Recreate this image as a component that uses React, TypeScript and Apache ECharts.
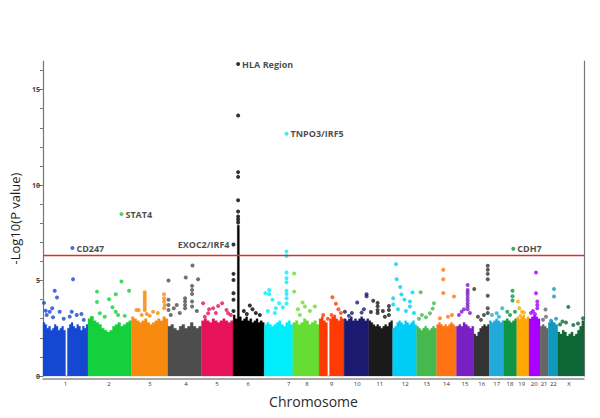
import React, { useEffect, useRef } from "react";
import * as echarts from "echarts";

// Chromosomes, their lengths (Mb, as spanned on the picture) and colours
const chromosomes = ["1","2","3","4","5","6","7","8","9","10","11","12","13","14","15","16","17","18","19","20","21","22","X"];
const chromosomeLengthsMb = [257,248,209,191,181,178,163,150,143,141,136,137,114,114,99,88,84,73,70,63,47,54,150];
const chromosomeColors = [
  "#1548d2","#14d03c","#f88a10","#4d4d4d","#e6135a","#000000","#00eefc","#66dd33",
  "#ff3a05","#1c1a70","#1a1a1a","#00cdf6","#45b84e","#ff7314","#7a1fc4","#333333",
  "#22aadb","#0e9444","#ffa900","#a800ff","#666666","#1098bd","#0f6636"
];
// Tick label positions on the genome axis (Mb)
const chromosomeLabelPositions = [128,377,610,816,994,1172,1404,1507,1648,1795,1924,2069,2191,2305,2410,2506,2591,2667,2734,2806,2862,2915,3004];

// Upper edge of the dense body of points in each chromosome (-log10 P), left to right
const baseProfiles = [
  [2.8,2.7,2.5,2.6,2.4,2.5,2.7,2.6,2.4,2.5,2.6,2.4,0,2.5,2.7,2.8,2.6,2.5,2.7,2.6,2.4,2.6,2.5,2.7],
  [3.0,3.1,2.9,2.8,2.7,2.5,2.4,2.3,2.4,2.6,2.7,2.8,2.6,2.7,2.8,2.9],
  [3.1,3.0,2.9,2.8,2.9,3.0,2.8,2.7,2.8,2.9,3.0,2.9,3.1,3.0],
  [2.6,2.7,2.5,2.4,2.6,2.7,2.5,2.6,2.8,2.6,2.5,2.6],
  [2.9,3.0,2.9,2.8,3.0,2.9,2.8,2.9,3.0,2.9,2.8,2.9],
  [3.2,3.0,7.9,3.1,2.9,3.0,3.1,2.9,3.0,2.8,2.9,3.0,2.8,2.9,2.8],
  [2.7,2.8,2.7,2.6,2.7,2.8,2.9,2.7,2.6,2.8,2.9,2.7],
  [2.8,2.9,2.7,2.8,3.0,2.9,2.7,2.8,2.9,2.7],
  [3.0,3.1,2.9,2.8,0,3.0,3.1,3.2,3.0,2.9,3.1,3.0],
  [3.0,2.9,3.0,3.1,2.9,3.0,2.9,3.0,3.1,3.0,2.9,3.0],
  [2.9,2.8,2.7,2.6,2.7,2.6,2.5,2.6,2.7,2.6,2.8,2.9],
  [2.5,2.6,2.8,2.9,2.8,2.7,2.9,2.8,2.7,2.8,2.9,2.7],
  [2.6,2.5,2.4,2.5,2.6,2.5,2.4,2.5,2.6,2.5],
  [2.7,2.8,2.7,2.6,2.7,2.6,2.7,2.8,2.7,2.6],
  [2.6,2.7,2.6,2.8,2.7,2.6,2.5,2.6],
  [2.2,2.1,2.3,2.5,2.6,2.7,2.6,2.7],
  [2.9,2.8,2.9,3.0,2.9,2.8,2.9],
  [2.9,3.0,2.9,2.8,2.9,3.0],
  [3.1,3.0,3.1,3.2,3.0,3.1],
  [3.0,3.1,3.2,3.1,3.0],
  [2.6,2.7,2.6,2.5],
  [2.8,2.9,2.8,2.7],
  [2.3,2.2,2.4,2.3,2.1,2.2,2.3,2.1,2.2,2.4,2.6,2.9]
];

// Individual SNPs above the dense body: [genome position (Mb), -log10 P]
const snpPoints: number[][] = [
  [5.7,3.83],[15.4,3.42],[21.1,3.2],[38.3,3.37],[52.6,3.55],[57.2,3.08],[66.9,4.47],[80.0,4.11],[95.4,3.37],[118.3,3.0],[152.6,3.11],[164.0,3.37],[171.5,5.07],[192.6,3.2],[219.5,3.25],[232.6,2.94],
  [278.3,3.05],[308.6,4.42],[308.6,3.88],[324.0,3.29],[352.6,3.1],[377.2,4.02],[396.6,3.6],[415.5,4.28],[415.5,3.37],[428.6,3.2],[448.1,4.95],[466.9,3.15],[491.5,4.47],
  [533.8,3.46],[546.9,3.46],[564.1,3.2],[581.2,4.39],[581.2,4.25],[581.2,4.13],[581.2,3.99],[581.2,3.85],[581.2,3.72],[581.2,3.58],[581.2,3.45],[592.6,3.25],[609.8,3.15],[628.7,3.37],[655.5,3.3],[691.5,4.28],[691.5,4.07],[691.5,3.9],[695.5,3.72],[691.5,3.55],
  [716.7,5.0],[716.7,3.99],[716.7,3.72],[716.7,3.46],[729.8,3.2],[747.0,3.55],[764.1,3.72],[781.2,3.3],[811.5,4.07],[811.5,3.9],[811.5,3.72],[811.5,3.55],[815.5,5.16],[851.5,4.72],[851.5,4.51],[851.5,4.3],[851.5,3.9],[851.5,3.64],[853.8,5.79],[878.4,3.4],[885.8,5.07],
  [914.4,3.81],[924.1,3.1],[943.0,3.29],[948.7,3.5],[971.6,3.55],[987.0,3.3],[1000.1,3.67],[1023.0,3.81],[1048.1,3.46],[1057.3,3.29],[1072.7,3.2],
  [1088,5.35],[1088,5.03],[1088,4.34],[1088,3.99],[1088,3.41],[1114.4,13.65],[1114.4,10.68],[1114.4,10.43],[1114.4,9.21],[1114.4,8.62],[1114.4,8.35],[1114.4,8.2],[1114.4,8.04],[1147.0,3.4],[1164.1,3.25],[1181.3,3.69],[1196.7,3.5],[1215.6,3.3],[1238.4,3.2],
  [1269.9,4.34],[1284.2,3.4],[1291.6,4.51],[1291.6,4.3],[1311.0,3.99],[1324.2,3.3],[1329.9,3.55],[1348.7,3.81],[1369.9,3.6],[1391.0,6.52],[1391.0,6.29],[1391.0,5.42],[1391.0,5.12],[1391.0,4.91],[1391.0,4.47],[1391.0,4.3],[1391.0,4.07],[1391.0,3.8],
  [1434.5,5.37],[1434.5,4.42],[1455.6,3.5],[1467.0,3.2],[1482.5,3.85],[1495.6,3.64],[1524.2,3.4],[1552.8,3.64],
  [1600.2,3.2],[1627.1,3.0],[1648.2,3.2],[1652.8,4.13],[1672.8,3.78],[1687.1,3.5],[1701.4,3.3],
  [1724.2,3.37],[1747.1,3.15],[1764.2,3.3],[1794.5,3.85],[1819.7,3.32],[1832.8,3.5],[1848.2,4.28],[1848.2,4.17],
  [1872.8,3.35],[1886.0,3.94],[1911.1,3.83],[1911.1,3.66],[1911.1,3.46],[1911.1,3.3],[1941.4,3.4],[1952.8,3.1],[1975.7,3.67],[1975.7,3.46],[1975.7,3.2],
  [2000.3,4.07],[2000.3,3.75],[2015.7,5.86],[2019.7,5.07],[2027.1,3.5],[2040.3,4.66],[2047.1,4.27],[2064.3,4.0],[2072.8,3.4],[2095.7,3.9],[2095.7,3.64],[2110.0,4.38],[2118.6,3.3],
  [2147.1,3.0],[2156.8,4.39],[2164.3,3.2],[2187.1,3.08],[2210.0,3.29],[2225.4,3.53],[2232.9,3.81],
  [2267.1,3.03],[2286.0,5.56],[2286.0,5.07],[2286.0,4.35],[2312.9,3.1],[2335.7,3.2],[2347.1,4.16],
  [2375.7,3.2],[2391.2,3.37],[2404.3,3.5],[2425.4,4.77],[2425.4,4.5],[2425.4,4.38],[2425.4,4.25],[2425.4,4.1],[2425.4,3.95],[2425.4,3.8],[2425.4,3.65],[2425.4,3.5],[2438.6,3.3],
  [2463.2,4.56],[2484.3,3.1],[2501.4,2.94],[2518.6,3.2],[2540.3,5.77],[2540.3,5.56],[2540.3,5.35],[2540.3,5.07],[2540.3,4.2],[2540.3,3.55],[2540.3,3.3],
  [2564.3,3.2],[2591.2,3.29],[2604.3,3.1],[2623.2,3.55],
  [2651.8,3.37],[2667.2,3.2],[2681.5,4.47],[2681.5,4.18],[2681.5,3.95],[2695.8,3.37],
  [2712.9,3.9],[2720.3,3.55],[2727.2,3.15],[2735.8,3.37],[2747.2,3.32],
  [2787.2,3.3],[2798.6,3.4],[2810.1,3.25],[2815.8,5.42],[2815.8,4.34],[2823.2,3.9],[2823.2,3.72],[2823.2,3.55],
  [2855.8,2.95],[2870.1,3.48],[2873.0,3.1],
  [2901.5,2.9],[2918.6,4.56],[2918.6,4.16],[2930.1,3.0],
  [2953.0,2.7],[2967.2,2.85],[2987.2,2.8],[3000.4,3.62],[3029.0,2.67],[3055.8,2.75],[3084.4,3.03]
];

// Annotated loci
const hitNames = ["CD247","STAT4","HLA Region","EXOC2/IRF4","TNPO3/IRF5","CDH7"];
const hitPositions = [168.0,448.1,1114.4,1088,1391.0,2686.1];
const hitValues = [6.70,8.48,16.34,6.89,12.69,6.66];
const hitLabelSides = ["right","right","right","left","right","right"];

const significanceThreshold = 6.34;
const yMax = 16.5;
const yLabelValues = [0,5,10,15];
const yMinorTickValues = [0,1,2,3,4,5,6,7,8,9,10,11,12,13,14,15,16];

const FONT = "'Open Sans', 'DejaVu Sans', sans-serif";

export default function App() {
  const ref = useRef<HTMLDivElement>(null);

  useEffect(() => {
    if (!ref.current) return;
    const chart = echarts.init(ref.current, null, { renderer: "svg" });

    const chrStarts: number[] = [];
    let acc = 0;
    chromosomeLengthsMb.forEach((l) => { chrStarts.push(acc); acc += l; });
    const genomeLength = acc;

    const chrIndexOf = (x: number) => {
      for (let i = chrStarts.length - 1; i >= 0; i--) if (x >= chrStarts[i]) return i;
      return 0;
    };

    const snpData = snpPoints.map((p) => [p[0], p[1], chrIndexOf(p[0])]);
    const hitData = hitNames.map((n, i) => ({
      name: n,
      value: [hitPositions[i], hitValues[i]],
      itemStyle: { color: chromosomeColors[chrIndexOf(hitPositions[i])] },
      label: { position: hitLabelSides[i] as any },
    }));

    const option: any = {
      animation: false,
      backgroundColor: "#ffffff",
      textStyle: { fontFamily: FONT },
      grid: { left: 43, right: 16, top: 61, bottom: 42, containLabel: false },
      xAxis: {
        type: "value",
        min: 0,
        max: genomeLength,
        offset: 3,
        name: "Chromosome",
        nameLocation: "middle",
        nameGap: 15,
        nameTextStyle: { fontSize: 14, color: "#2b2b2b", fontFamily: FONT },
        axisLine: { show: true, onZero: false, lineStyle: { color: "#8c8c8c", width: 1.5 } },
        axisTick: { show: false },
        splitLine: { show: false },
        axisLabel: {
          customValues: chromosomeLabelPositions,
          formatter: (v: number) => {
            const idx = chromosomeLabelPositions.indexOf(v);
            return idx >= 0 ? chromosomes[idx] : "";
          },
          fontSize: 6,
          color: "#333",
          margin: 2,
          fontFamily: FONT,
        },
      },
      yAxis: [
        {
          type: "value",
          position: "left",
          min: 0,
          max: yMax,
          name: "-Log10(P value)",
          nameLocation: "middle",
          nameGap: 20,
          nameTextStyle: { fontSize: 13, color: "#1e1e1e", fontFamily: FONT },
          axisLine: { show: true, lineStyle: { color: "#777", width: 1.2 } },
          axisTick: { show: true, customValues: yLabelValues, length: 6, lineStyle: { color: "#777" } },
          axisLabel: { customValues: yLabelValues, fontSize: 7, color: "#444", fontWeight: "bold", margin: 3, fontFamily: FONT },
          splitLine: { show: false },
        },
        {
          type: "value",
          position: "left",
          min: 0,
          max: yMax,
          axisLine: { show: false },
          axisTick: { show: true, customValues: yMinorTickValues, length: 3, lineStyle: { color: "#777" } },
          axisLabel: { show: false },
          splitLine: { show: false },
        },
        {
          type: "value",
          position: "right",
          min: 0,
          max: yMax,
          axisLine: { show: true, onZero: false, lineStyle: { color: "#777", width: 1.2 } },
          axisTick: { show: false },
          axisLabel: { show: false },
          splitLine: { show: false },
        },
      ],
      series: [
        {
          type: "custom",
          name: "body",
          z: 1,
          silent: true,
          data: chromosomes.map((_, i) => [chrStarts[i] + chromosomeLengthsMb[i] / 2, 1]),
          renderItem: (params: any, api: any) => {
            const i = params.dataIndex;
            const start = chrStarts[i];
            const len = chromosomeLengthsMb[i];
            const prof = baseProfiles[i];
            const w = len / prof.length;
            const pts: number[][] = [api.coord([start, 0])];
            prof.forEach((h, k) => {
              pts.push(api.coord([start + k * w, h]));
              pts.push(api.coord([start + (k + 1) * w, h]));
            });
            pts.push(api.coord([start + len, 0]));
            return {
              type: "polygon",
              shape: { points: pts },
              style: { fill: chromosomeColors[i], stroke: chromosomeColors[i], lineWidth: 0.3 },
            };
          },
        },
        {
          type: "scatter",
          name: "SNPs",
          z: 3,
          symbolSize: 4,
          data: snpData,
          itemStyle: { color: (p: any) => chromosomeColors[p.data[2]] },
        },
        {
          type: "scatter",
          name: "Loci",
          z: 4,
          symbolSize: 4,
          data: hitData,
          label: {
            show: true,
            formatter: "{b}",
            fontSize: 9,
            fontWeight: "bold",
            color: "#1a1a1a",
            distance: 2,
            fontFamily: FONT,
          },
          markLine: {
            silent: true,
            symbol: "none",
            label: { show: false },
            lineStyle: { color: "#d8302f", width: 1.4, type: "solid" },
            data: [{ yAxis: significanceThreshold }],
          },
        },
      ],
    };

    chart.setOption(option);
    return () => chart.dispose();
  }, []);

  return (
    <div
      ref={ref}
      style={{ position: "absolute", left: 0, top: 0, width: 600, height: 418, background: "#fff" }}
    />
  );
}
